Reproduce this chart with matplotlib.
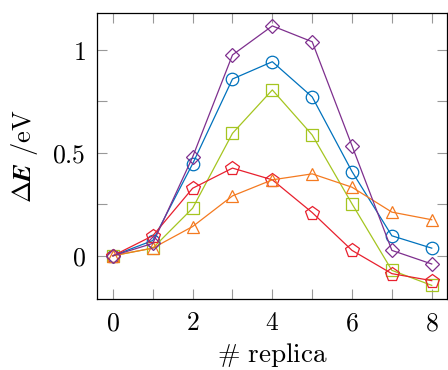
import matplotlib
matplotlib.use("Agg")
import matplotlib.pyplot as plt
from matplotlib.ticker import FixedLocator, FuncFormatter

plt.rcParams['font.family'] = 'serif'
plt.rcParams['font.serif'] = ['DejaVu Serif']
plt.rcParams['mathtext.fontset'] = 'cm'

replica = [0, 1, 2, 3, 4, 5, 6, 7, 8]
blue_circles = [0.0, 0.074, 0.447, 0.859, 0.943, 0.772, 0.409, 0.097, 0.037]
green_squares = [0.0, 0.037, 0.231, 0.595, 0.806, 0.587, 0.252, -0.071, -0.144]
red_pentagons = [0.0, 0.097, 0.328, 0.426, 0.369, 0.210, 0.026, -0.087, -0.121]
orange_triangles = [0.0, 0.037, 0.142, 0.291, 0.369, 0.398, 0.333, 0.212, 0.175]
purple_diamonds = [0.0, 0.060, 0.480, 0.976, 1.117, 1.040, 0.534, 0.026, -0.040]

x_ticks = [0, 2, 4, 6, 8]
y_ticks = [0, 0.5, 1]

fig = plt.figure(figsize=(4.48, 3.70), dpi=100)
ax = fig.add_axes([0.2165, 0.192, 0.781, 0.773])

series = [
    (blue_circles, '#0072BD', 'o', 9),
    (green_squares, '#A5C520', 's', 9),
    (red_pentagons, '#E8202E', 'p', 10),
    (orange_triangles, '#F47A20', '^', 9),
    (purple_diamonds, '#7E2F8E', 'D', 7.5),
]
for vals, col, mk, ms in series:
    ax.plot(replica, vals, color=col, marker=mk, markersize=ms,
            markerfacecolor='none', markeredgecolor=col, markeredgewidth=0.9,
            linewidth=0.9)

ax.set_xlim(-0.4, 8.38)
ax.set_ylim(-0.21, 1.18)
ax.xaxis.set_major_locator(FixedLocator(x_ticks))
ax.xaxis.set_minor_locator(FixedLocator([1, 3, 5, 7]))
ax.yaxis.set_major_locator(FixedLocator(y_ticks))
ax.yaxis.set_minor_locator(FixedLocator([0.25, 0.75]))
fmt = FuncFormatter(lambda v, p: r'$%g$' % v)
ax.xaxis.set_major_formatter(fmt)
ax.yaxis.set_major_formatter(fmt)

for which in ('major', 'minor'):
    ax.tick_params(axis='both', which=which, direction='in', length=7,
                   width=0.8, color='#999999', top=True, right=True,
                   labelsize=18.5, pad=8)
for sp in ax.spines.values():
    sp.set_linewidth(0.9)

ax.set_xlabel(r'$\#\ \mathrm{replica}$', fontsize=19.5, labelpad=4)
ax.set_ylabel(r'$\boldsymbol{\Delta}\mathbfit{E}\ \mathrm{/eV}$', fontsize=19, labelpad=9)

fig.savefig('out.png', dpi=100)
